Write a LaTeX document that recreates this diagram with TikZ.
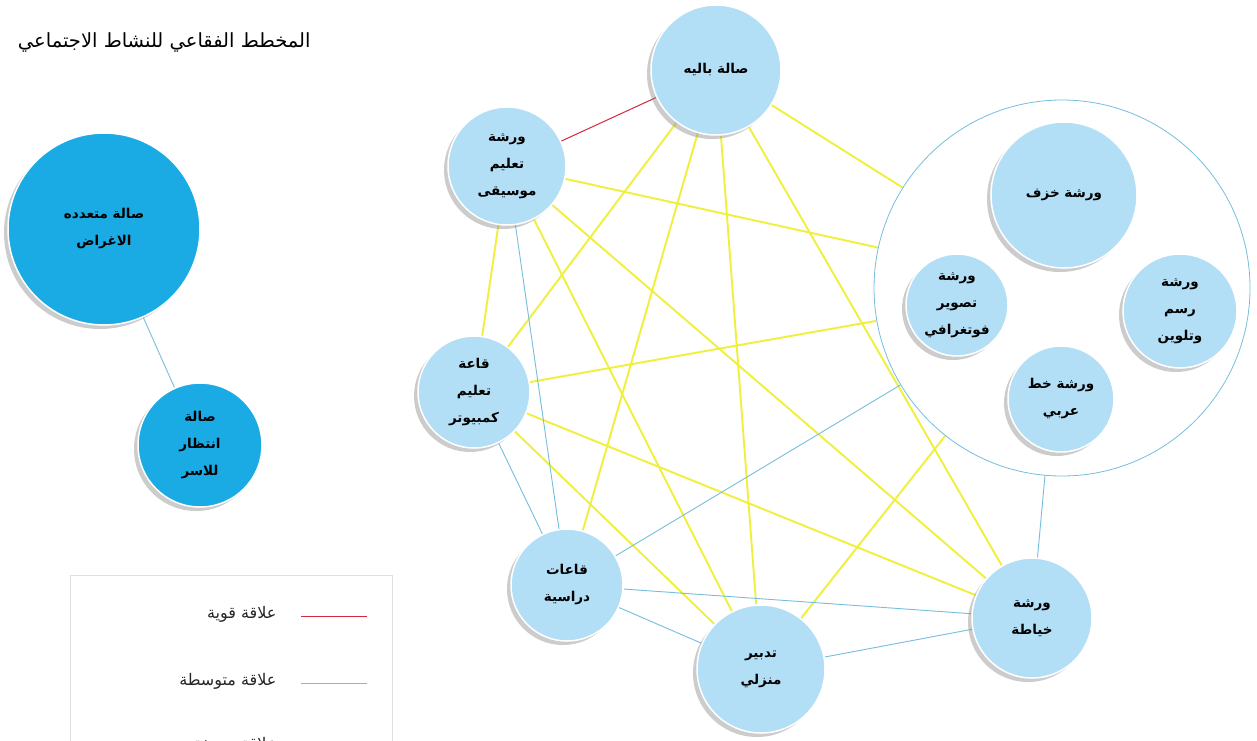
\documentclass[tikz,border=0pt]{standalone}
\usepackage{fontspec}
\newfontfamily\arabicfont[Script=Arabic]{DejaVu Sans}
\TeXXeTstate=1
\usetikzlibrary{shadows,backgrounds}
\newcommand{\artxt}[1]{\beginR #1\endR}
\definecolor{bubfill}{RGB}{178,222,246}
\definecolor{leftfill}{RGB}{26,170,228}
\definecolor{lnyellow}{RGB}{240,240,60}
\definecolor{lnblue}{RGB}{118,190,222}
\definecolor{lnred}{RGB}{212,40,60}
\definecolor{boxgray}{RGB}{220,224,228}
\tikzset{
  bub/.style={circle, fill=bubfill, draw=white, line width=1.5pt, inner sep=0pt, align=center,
    minimum size=#1,
    drop shadow={shadow xshift=-4pt, shadow yshift=-4pt, opacity=0.4, fill=gray},
    font=\arabicfont\bfseries\fontsize{13.5}{27}\selectfont, text=black},
  leftbub/.style={bub=#1, fill=leftfill},
  strong/.style={draw=lnred, line width=1pt},
  medium/.style={draw=lnblue, line width=0.9pt},
  weak/.style={draw=lnyellow, line width=1.9pt},
  legtext/.style={font=\arabicfont\fontsize{16}{18}\selectfont, anchor=east, text=black!85},
}
\begin{document}
\begin{tikzpicture}[x=1pt,y=-1pt]
\useasboundingbox (0,0) rectangle (1257,740);
\clip (0,0) rectangle (1257,740);

% title
\node[font=\arabicfont\fontsize{19.5}{22}\selectfont, anchor=east] (title) at (314,42) {\artxt{المخطط الفقاعي للنشاط الاجتماعي}};

% left group
\node[leftbub=192pt] (multi) at (104,229) {\artxt{صالة متعدده}\\\artxt{الاغراض}};
\node[leftbub=124pt] (wait) at (200,445) {\artxt{صالة}\\\artxt{انتظار}\\\artxt{للاسر}};

% main network
\node[bub=130pt] (ballet) at (716,70) {\artxt{صالة باليه}};
\node[bub=118pt] (music) at (507,166) {\artxt{ورشة}\\\artxt{تعليم}\\\artxt{موسيقى}};
\node[bub=112pt] (comp) at (474,392) {\artxt{قاعة}\\\artxt{تعليم}\\\artxt{كمبيوتر}};
\node[bub=112pt] (class) at (567,585) {\artxt{قاعات}\\\artxt{دراسية}};
\node[bub=128pt] (home) at (761,669) {\artxt{تدبير}\\\artxt{منزلي}};
\node[bub=120pt] (sew) at (1032,618) {\artxt{ورشة}\\\artxt{خياطة}};

% workshop group
\node[circle, draw=lnblue, line width=0.8pt, fill=white, minimum size=376pt, inner sep=0pt] (group) at (1062,288) {};
\node[bub=146pt] (pottery) at (1064,195) {\artxt{ورشة خزف}};
\node[bub=102pt] (photo) at (957,305) {\artxt{ورشة}\\\artxt{تصوير}\\\artxt{فوتغرافي}};
\node[bub=114pt] (paint) at (1180,311) {\artxt{ورشة}\\\artxt{رسم}\\\artxt{وتلوين}};
\node[bub=106pt] (callig) at (1061,399) {\artxt{ورشة خط}\\\artxt{عربي}};

% legend
\node[draw=boxgray, fill=white, line width=0.8pt, minimum width=322pt, minimum height=200pt, anchor=north west] (legend) at (70,575) {};
\coordinate (r1) at (301,616);
\coordinate (r2) at (367,616);
\coordinate (b1) at (301,683);
\coordinate (b2) at (367,683);
\coordinate (y1) at (301,747);
\coordinate (y2) at (367,747);
\draw[strong] (r1) -- (r2);
\draw[medium] (b1) -- (b2);
\draw[weak] (y1) -- (y2);
\node[legtext] (lstrong) at (280,614) {\artxt{علاقة قوية}};
\node[legtext] (lmedium) at (280,681) {\artxt{علاقة متوسطة}};
\node[legtext] (lweak) at (280,745) {\artxt{علاقة ضعيفة}};

\begin{pgfonlayer}{background}
  \fill[white] (0,0) rectangle (1257,740);
  \draw[medium] (multi) -- (wait);
  \draw[strong] (music) -- (ballet);
  % weak
  \draw[weak] (ballet) -- (comp);
  \draw[weak] (ballet) -- (class);
  \draw[weak] (ballet) -- (home);
  \draw[weak] (ballet) -- (sew);
  \draw[weak] (ballet) -- (group);
  \draw[weak] (music) -- (comp);
  \draw[weak] (music) -- (home);
  \draw[weak] (music) -- (sew);
  \draw[weak] (music) -- (group);
  \draw[weak] (comp) -- (group);
  \draw[weak] (comp) -- (sew);
  \draw[weak] (comp) -- (home);
  \draw[weak] (home) -- (group);
  % medium
  \draw[medium] (music) -- (class);
  \draw[medium] (comp) -- (class);
  \draw[medium] (class) -- (group);
  \draw[medium] (class) -- (sew);
  \draw[medium] (class) -- (home);
  \draw[medium] (home) -- (sew);
  \draw[medium] (sew) -- (group);
\end{pgfonlayer}
\end{tikzpicture}
\end{document}
